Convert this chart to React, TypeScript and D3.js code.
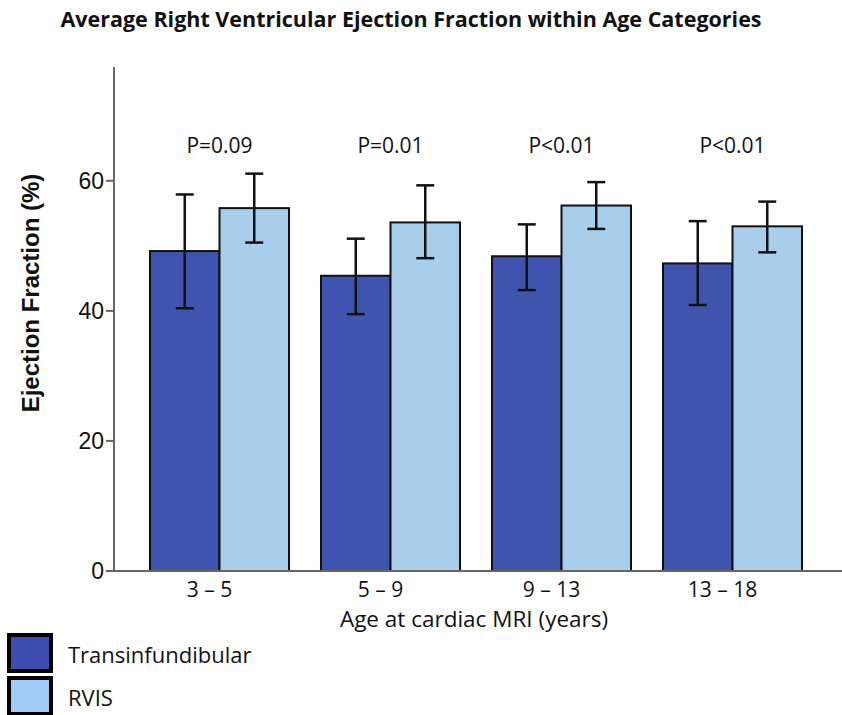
import React from "react";
import * as d3 from "d3";

const categories = ["3 – 5", "5 – 9", "9 – 13", "13 – 18"];
const seriesNames = ["Transinfundibular", "RVIS"];
const transMean = [49.2, 45.4, 48.4, 47.3];
const transLow = [40.4, 39.5, 43.2, 40.9];
const transHigh = [57.9, 51.1, 53.3, 53.8];
const rvisMean = [55.8, 53.6, 56.2, 53.0];
const rvisLow = [50.5, 48.1, 52.6, 49.0];
const rvisHigh = [61.1, 59.3, 59.8, 56.8];
const pLabels = ["P=0.09", "P=0.01", "P<0.01", "P<0.01"];
const yTicks = [0, 20, 40, 60];

const W = 842;
const H = 715;
const barColors = ["#3F54AE", "#A9CEEC"];
const legendColors = ["#3F4FB0", "#9FCCF6"];
const axisColor = "#666666";
const sans = "'Open Sans', sans-serif";
const arial = "'Liberation Sans', Arial, sans-serif";

export default function App() {
  const axisX = 114;
  const y = d3.scaleLinear().domain([0, 77.5]).range([571, 67]);
  const x0 = d3
    .scaleBand<string>()
    .domain(categories)
    .range([134, 818])
    .paddingInner(0.187)
    .paddingOuter(0.0935);
  const x1 = d3
    .scaleBand<string>()
    .domain(seriesNames)
    .range([0, x0.bandwidth()]);

  const series = [
    { name: seriesNames[0], mean: transMean, lo: transLow, hi: transHigh },
    { name: seriesNames[1], mean: rvisMean, lo: rvisLow, hi: rvisHigh },
  ];
  const capW = 18;

  return (
    <svg
      width={W}
      height={H}
      style={{ position: "absolute", left: 0, top: 0, background: "#fff" }}
    >
      <text
        x={411}
        y={27}
        textAnchor="middle"
        fontFamily={sans}
        fontWeight="bold"
        fontSize={21.5}
        fill="#111"
      >
        Average Right Ventricular Ejection Fraction within Age Categories
      </text>

      {/* bars */}
      {categories.map((c, i) => (
        <g key={c} transform={`translate(${x0(c)},0)`}>
          {series.map((s, si) => (
            <rect
              key={s.name}
              x={x1(s.name)!}
              y={y(s.mean[i])}
              width={x1.bandwidth()}
              height={y(0) - y(s.mean[i])}
              fill={barColors[si]}
              stroke="#111"
              strokeWidth={2}
            />
          ))}
          {series.map((s) => {
            const cx = x1(s.name)! + x1.bandwidth() / 2;
            return (
              <g key={s.name + "e"} stroke="#111" strokeWidth={2.5}>
                <line x1={cx} x2={cx} y1={y(s.hi[i])} y2={y(s.lo[i])} />
                <line
                  x1={cx - capW / 2}
                  x2={cx + capW / 2}
                  y1={y(s.hi[i])}
                  y2={y(s.hi[i])}
                />
                <line
                  x1={cx - capW / 2}
                  x2={cx + capW / 2}
                  y1={y(s.lo[i])}
                  y2={y(s.lo[i])}
                />
              </g>
            );
          })}
          <text
            x={x0.bandwidth() / 2}
            y={153}
            textAnchor="middle"
            fontFamily={sans}
            fontSize={21}
            fill="#111"
          >
            {pLabels[i]}
          </text>
          <text
            x={x0.bandwidth() / 2 - 10}
            y={597}
            textAnchor="middle"
            fontFamily={sans}
            fontSize={21}
            fill="#111"
          >
            {c}
          </text>
        </g>
      ))}

      {/* axes */}
      <line
        x1={axisX}
        x2={axisX}
        y1={y(77.5)}
        y2={y(0)}
        stroke={axisColor}
        strokeWidth={2}
      />
      <line
        x1={axisX}
        x2={842}
        y1={y(0)}
        y2={y(0)}
        stroke={axisColor}
        strokeWidth={2}
      />
      {yTicks.map((t) => (
        <g key={t}>
          <line
            x1={axisX - 8}
            x2={axisX}
            y1={y(t)}
            y2={y(t)}
            stroke={axisColor}
            strokeWidth={2}
          />
          <text
            x={axisX - 10}
            y={y(t)}
            dy="0.36em"
            textAnchor="end"
            fontFamily={arial}
            fontSize={23}
            fill="#111"
          >
            {t}
          </text>
        </g>
      ))}
      <text
        transform={`translate(39,293) rotate(-90)`}
        textAnchor="middle"
        fontFamily={arial}
        fontWeight="bold"
        fontSize={24}
        fill="#111"
      >
        Ejection Fraction (%)
      </text>
      <text
        x={474}
        y={627}
        textAnchor="middle"
        fontFamily={sans}
        fontSize={22.5}
        fill="#111"
      >
        Age at cardiac MRI (years)
      </text>

      {/* legend */}
      {seriesNames.map((n, i) => (
        <g key={n} transform={`translate(0,${i * 43})`}>
          <rect
            x={9}
            y={635}
            width={42}
            height={36}
            fill={legendColors[i]}
            stroke="#000"
            strokeWidth={4}
          />
          <text
            x={68}
            y={663}
            fontFamily={sans}
            fontSize={22}
            fill="#111"
          >
            {n}
          </text>
        </g>
      ))}
    </svg>
  );
}
